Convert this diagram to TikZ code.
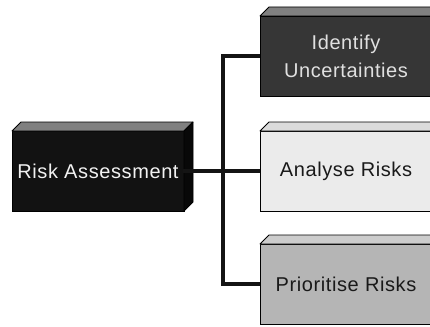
\documentclass[tikz,border=0pt]{standalone}
\usepackage{fontspec}
\setmainfont[LetterSpace=3]{Liberation Sans}
\begin{document}
\begin{tikzpicture}[x=1pt,y=-1pt,
  box/.style={draw=black, line width=0.8pt, rectangle, outer sep=0pt, inner sep=2pt,
    minimum width=172pt, minimum height=80pt, anchor=north west, align=center,
    font=\fontsize{20pt}{28pt}\selectfont},
  conn/.style={line width=3.6pt, draw=black!92},
  face/.style={draw=black, line width=0.8pt, line join=round}]
\useasboundingbox (0,0) rectangle (430,326);
\clip (0,0) rectangle (430,326);
\fill[white] (0,0) rectangle (430,326);
% boxes
\node[box, fill=black!93, text=black!5] (ra) at (12,131) {Risk Assessment};
\node[box, fill=black!79, text=black!12] (iu) at (260,16) {Identify\\Uncertainties};
\node[box, fill=black!8, text=black!90] (an) at (260,131) {Analyse Risks};
\node[box, fill=black!29, text=black!90] (pr) at (260,244) {Prioritise Risks};
% 3D faces
\foreach \n/\top/\side in {ra/black!50/black!97, iu/black!50/black!85, an/black!14/black!12, pr/black!20/black!35}{
  \filldraw[face, fill=\top] (\n.north west) -- ++(9,-9) -- ([shift={(9,-9)}]\n.north east) -- (\n.north east) -- cycle;
  \filldraw[face, fill=\side] (\n.north east) -- ++(9,-9) -- ([shift={(9,-9)}]\n.south east) -- (\n.south east) -- cycle;
}
% connectors
\coordinate (bus) at (223,171);
\draw[conn] ([xshift=-1pt]ra.east) -- (an.west);
\draw[conn] (iu.west) -| (bus |- iu.west) -- (bus |- pr.west) -- (pr.west);
\end{tikzpicture}
\end{document}
